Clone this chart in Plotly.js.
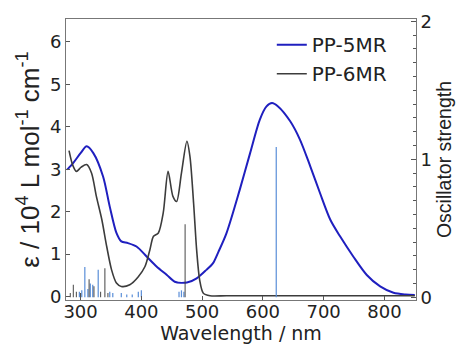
<!DOCTYPE html>
<html><head><meta charset="utf-8">
<script src="https://cdn.plot.ly/plotly-3.0.1.min.js"></script>
<style>html,body{margin:0;padding:0;background:#fff}#c{width:460px;height:352px}</style>
</head><body><div id="c"></div>
<script>
// PP-5MR absorption (ε / 10^4 L mol^-1 cm^-1)
const blueX = [278,288,300,310,321,337,348,359,367,378,392,409,425,442,455,475,491,507,518,527,540,562,579,595,606,615,625,645,661,678,694,711,727,749,771,793,815,835,850];
const blueY = [2.99,3.15,3.38,3.54,3.38,2.83,2.12,1.50,1.30,1.26,1.18,0.94,0.71,0.51,0.35,0.33,0.43,0.63,0.79,1.06,1.49,2.52,3.38,4.17,4.48,4.56,4.48,4.13,3.70,3.07,2.44,1.81,1.42,0.94,0.51,0.24,0.09,0.05,0.04];
// PP-6MR absorption
const grayX = [281,287,293,301,310,318,326,335,343,351,359,367,381,395,406,414,420,428,436,444,452,458,466,475,480,486,491,496,502,513,540,600,700,850];
const grayY = [3.44,3.10,2.95,3.05,3.11,2.91,2.36,1.81,1.18,0.63,0.32,0.24,0.28,0.47,0.71,1.10,1.42,1.50,1.97,2.95,2.36,2.24,2.91,3.66,3.30,2.20,1.10,0.39,0.08,0.02,0.02,0.02,0.02,0.02];
// oscillator strengths
const blueStickX = [298,302,307,312,316,320,329,348,353,367,376,385,395,400,462,466,470,622];
const blueStickF = [0.04,0.05,0.22,0.06,0.10,0.09,0.20,0.04,0.03,0.03,0.02,0.02,0.04,0.05,0.04,0.05,0.04,1.09];
const grayStickX = [283,288,293,300,314,322,333,340,345,472];
const grayStickF = [0.03,0.09,0.04,0.03,0.13,0.08,0.04,0.21,0.03,0.53];
const xTicks = [300,400,500,600,700,800];

const hFont = {family:'"DejaVu Sans", sans-serif', size:18, color:'#222'};
const vFont = {family:'"Liberation Sans", Arial, sans-serif', size:19.5, color:'#222'};
const traces = [
  {x:blueStickX, y:blueStickF, type:'bar', yaxis:'y2', width:2, marker:{color:'#5b8fd8', line:{width:0}}, showlegend:false, hoverinfo:'skip'},
  {x:grayStickX, y:grayStickF, type:'bar', yaxis:'y2', width:1.6, marker:{color:'#404040', line:{width:0}}, showlegend:false, hoverinfo:'skip'},
  {x:blueX, y:blueY, type:'scatter', mode:'lines', name:'PP-5MR', line:{color:'#1f1fbf', width:2, shape:'spline', smoothing:0.8}},
  {x:grayX, y:grayY, type:'scatter', mode:'lines', name:'PP-6MR', line:{color:'#3c3c3c', width:1.6, shape:'spline', smoothing:0.8}}
];
const layout = {
  width:460, height:352,
  margin:{l:66, r:44, t:19, b:52},
  paper_bgcolor:'#fff', plot_bgcolor:'#fff',
  font: hFont,
  barmode:'overlay',
  showlegend:true,
  legend:{x:0.588, y:0.978, xanchor:'left', yanchor:'top', bgcolor:'rgba(0,0,0,0)', font:{family:hFont.family, size:20, color:'#222'}, tracegroupgap:0, itemwidth:30},
  xaxis:{range:[276,852], tickvals:xTicks, ticks:'inside', ticklen:4, tickcolor:'#555', ticklabelstandoff:-5,
    showline:true, linecolor:'#777', linewidth:1, mirror:true, showgrid:false, zeroline:false,
    title:{text:'Wavelength / nm', font:{family:hFont.family, size:19, color:'#222'}, standoff:0}, tickfont:hFont},
  yaxis:{range:[-0.08,6.54], tickvals:[0,1,2,3,4,5,6], ticks:'inside', ticklen:4, tickcolor:'#555',
    showline:true, linecolor:'#777', linewidth:1, showgrid:false, zeroline:false,
    title:{text:'ε / 10<sup>4</sup> L mol<sup>-1</sup> cm<sup>-1</sup>', font:{family:vFont.family, size:26, color:'#222'}, standoff:2}, tickfont:hFont},
  yaxis2:{overlaying:'y', side:'right', range:[-0.02,2.017], tickvals:[0,1,2], ticks:'inside', ticklen:5, tickcolor:'#555',
    minor:{dtick:0.1, ticks:'inside', ticklen:3, tickcolor:'#555'},
    showline:true, linecolor:'#777', linewidth:1, showgrid:false, zeroline:false,
    title:{text:'Oscillator strength', font:vFont, standoff:6}, tickfont:hFont}
};
Plotly.newPlot('c', traces, layout, {displayModeBar:false, staticPlot:true});
</script></body></html>
